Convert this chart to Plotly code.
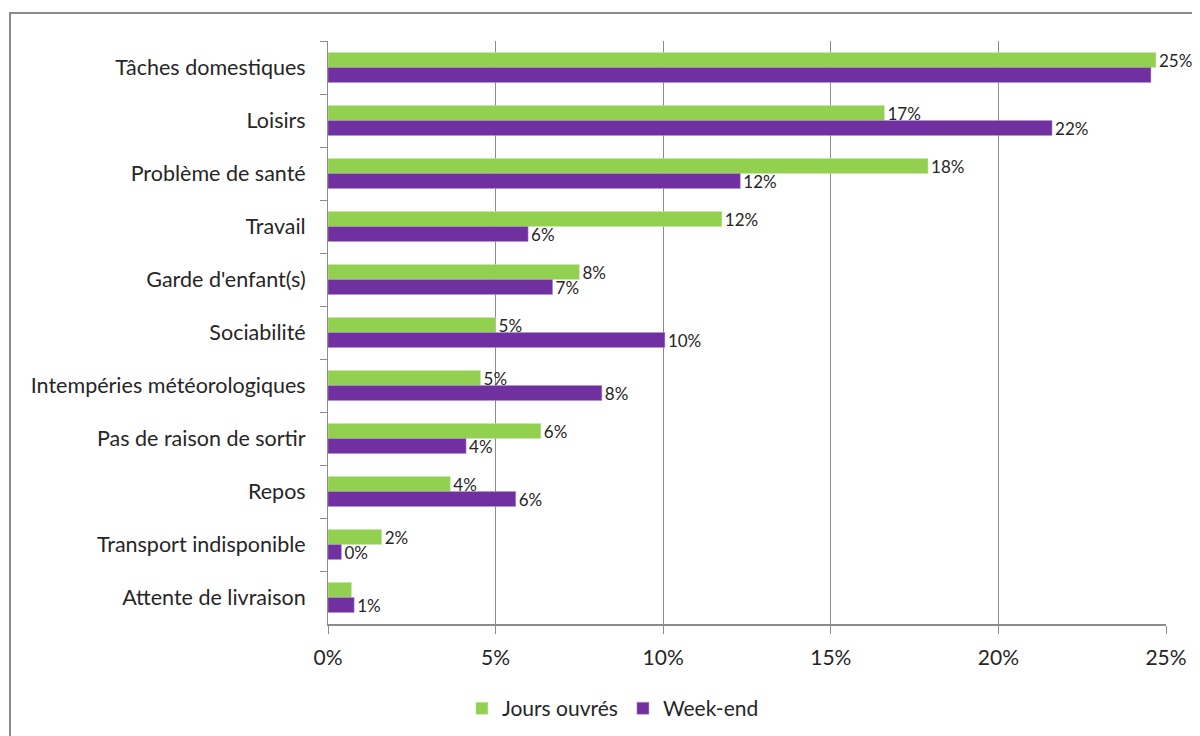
import plotly.graph_objects as go

categories = ["Tâches domestiques", "Loisirs", "Problème de santé", "Travail",
              "Garde d'enfant(s)", "Sociabilité", "Intempéries météorologiques",
              "Pas de raison de sortir", "Repos", "Transport indisponible",
              "Attente de livraison"]
jours_ouvres = [24.7, 16.6, 17.9, 11.75, 7.5, 5.0, 4.55, 6.35, 3.65, 1.6, 0.7]
week_end = [24.55, 21.6, 12.3, 5.97, 6.7, 10.05, 8.17, 4.12, 5.6, 0.4, 0.78]
show_jours = [True, True, True, True, True, True, True, True, True, True, False]
show_we = [False, True, True, True, True, True, True, True, True, True, True]
x_ticks = [0, 5, 10, 15, 20, 25]
x_tick_labels = ["0%", "5%", "10%", "15%", "20%", "25%"]

FONT = "Lato, 'Open Sans', sans-serif"
GREEN = "#92D050"
PURPLE = "#7030A0"
GRID = "#8c8c8c"
TXT = "#262626"

# the page body adds an 8px offset; margins compensate for it
OFF = 8
L, T, PW, PH = 328 - OFF, 41 - OFF, 838, 583


def labels(vals, show):
    return [f"{round(v):.0f}%" if s else "" for v, s in zip(vals, show)]


fig = go.Figure()
fig.add_trace(go.Bar(
    y=categories, x=jours_ouvres, orientation="h", name="Jours ouvrés",
    marker=dict(color=GREEN, line=dict(color="#c8e8a8", width=0.5)),
    text=labels(jours_ouvres, show_jours), textposition="outside",
    constraintext="none",
    textfont=dict(family=FONT, size=17, color=TXT), cliponaxis=False,
))
fig.add_trace(go.Bar(
    y=categories, x=week_end, orientation="h", name="Week-end",
    marker=dict(color=PURPLE, line=dict(color="#b090d0", width=0.5)),
    text=labels(week_end, show_we), textposition="outside",
    constraintext="none",
    textfont=dict(family=FONT, size=17, color=TXT), cliponaxis=False,
))

fig.update_layout(
    width=1200, height=736,
    margin=dict(l=L, r=1200 - L - PW, t=T, b=736 - T - PH, autoexpand=False),
    paper_bgcolor="white", plot_bgcolor="white",
    barmode="group", bargap=0.434, bargroupgap=0,
    font=dict(family=FONT, size=21, color=TXT),
    showlegend=True,
    legend=dict(orientation="h", x=0.34, xanchor="center", y=-0.11, yanchor="top",
                font=dict(family=FONT, size=21, color=TXT),
                traceorder="normal", itemwidth=30),
    uniformtext=dict(mode=False),
)
fig.update_xaxes(
    range=[0, 25], tickvals=x_ticks, ticktext=x_tick_labels,
    showgrid=True, gridcolor=GRID, gridwidth=1,
    showline=True, linecolor=GRID, linewidth=2,
    ticks="outside", ticklen=8, tickcolor=GRID, tickwidth=1,
    tickfont=dict(family=FONT, size=21, color=TXT),
    ticklabelstandoff=6,
    zeroline=False, fixedrange=True,
)
fig.update_yaxes(
    autorange="reversed", showgrid=False,
    showline=True, linecolor=GRID, linewidth=1,
    ticks="outside", tickson="boundaries", ticklen=7, tickcolor=GRID,
    tickfont=dict(family=FONT, size=21.5, color=TXT),
    ticklabelstandoff=17,
)
fig.add_shape(type="rect", xref="paper", yref="paper",
              x0=(10 - 328) / PW, x1=(1215 - 328) / PW,
              y0=(624 - 760) / PH, y1=(624 - 13) / PH,
              line=dict(color="#8a8a8a", width=2), fillcolor="rgba(0,0,0,0)",
              layer="below")

fig.write_html("out.html")
